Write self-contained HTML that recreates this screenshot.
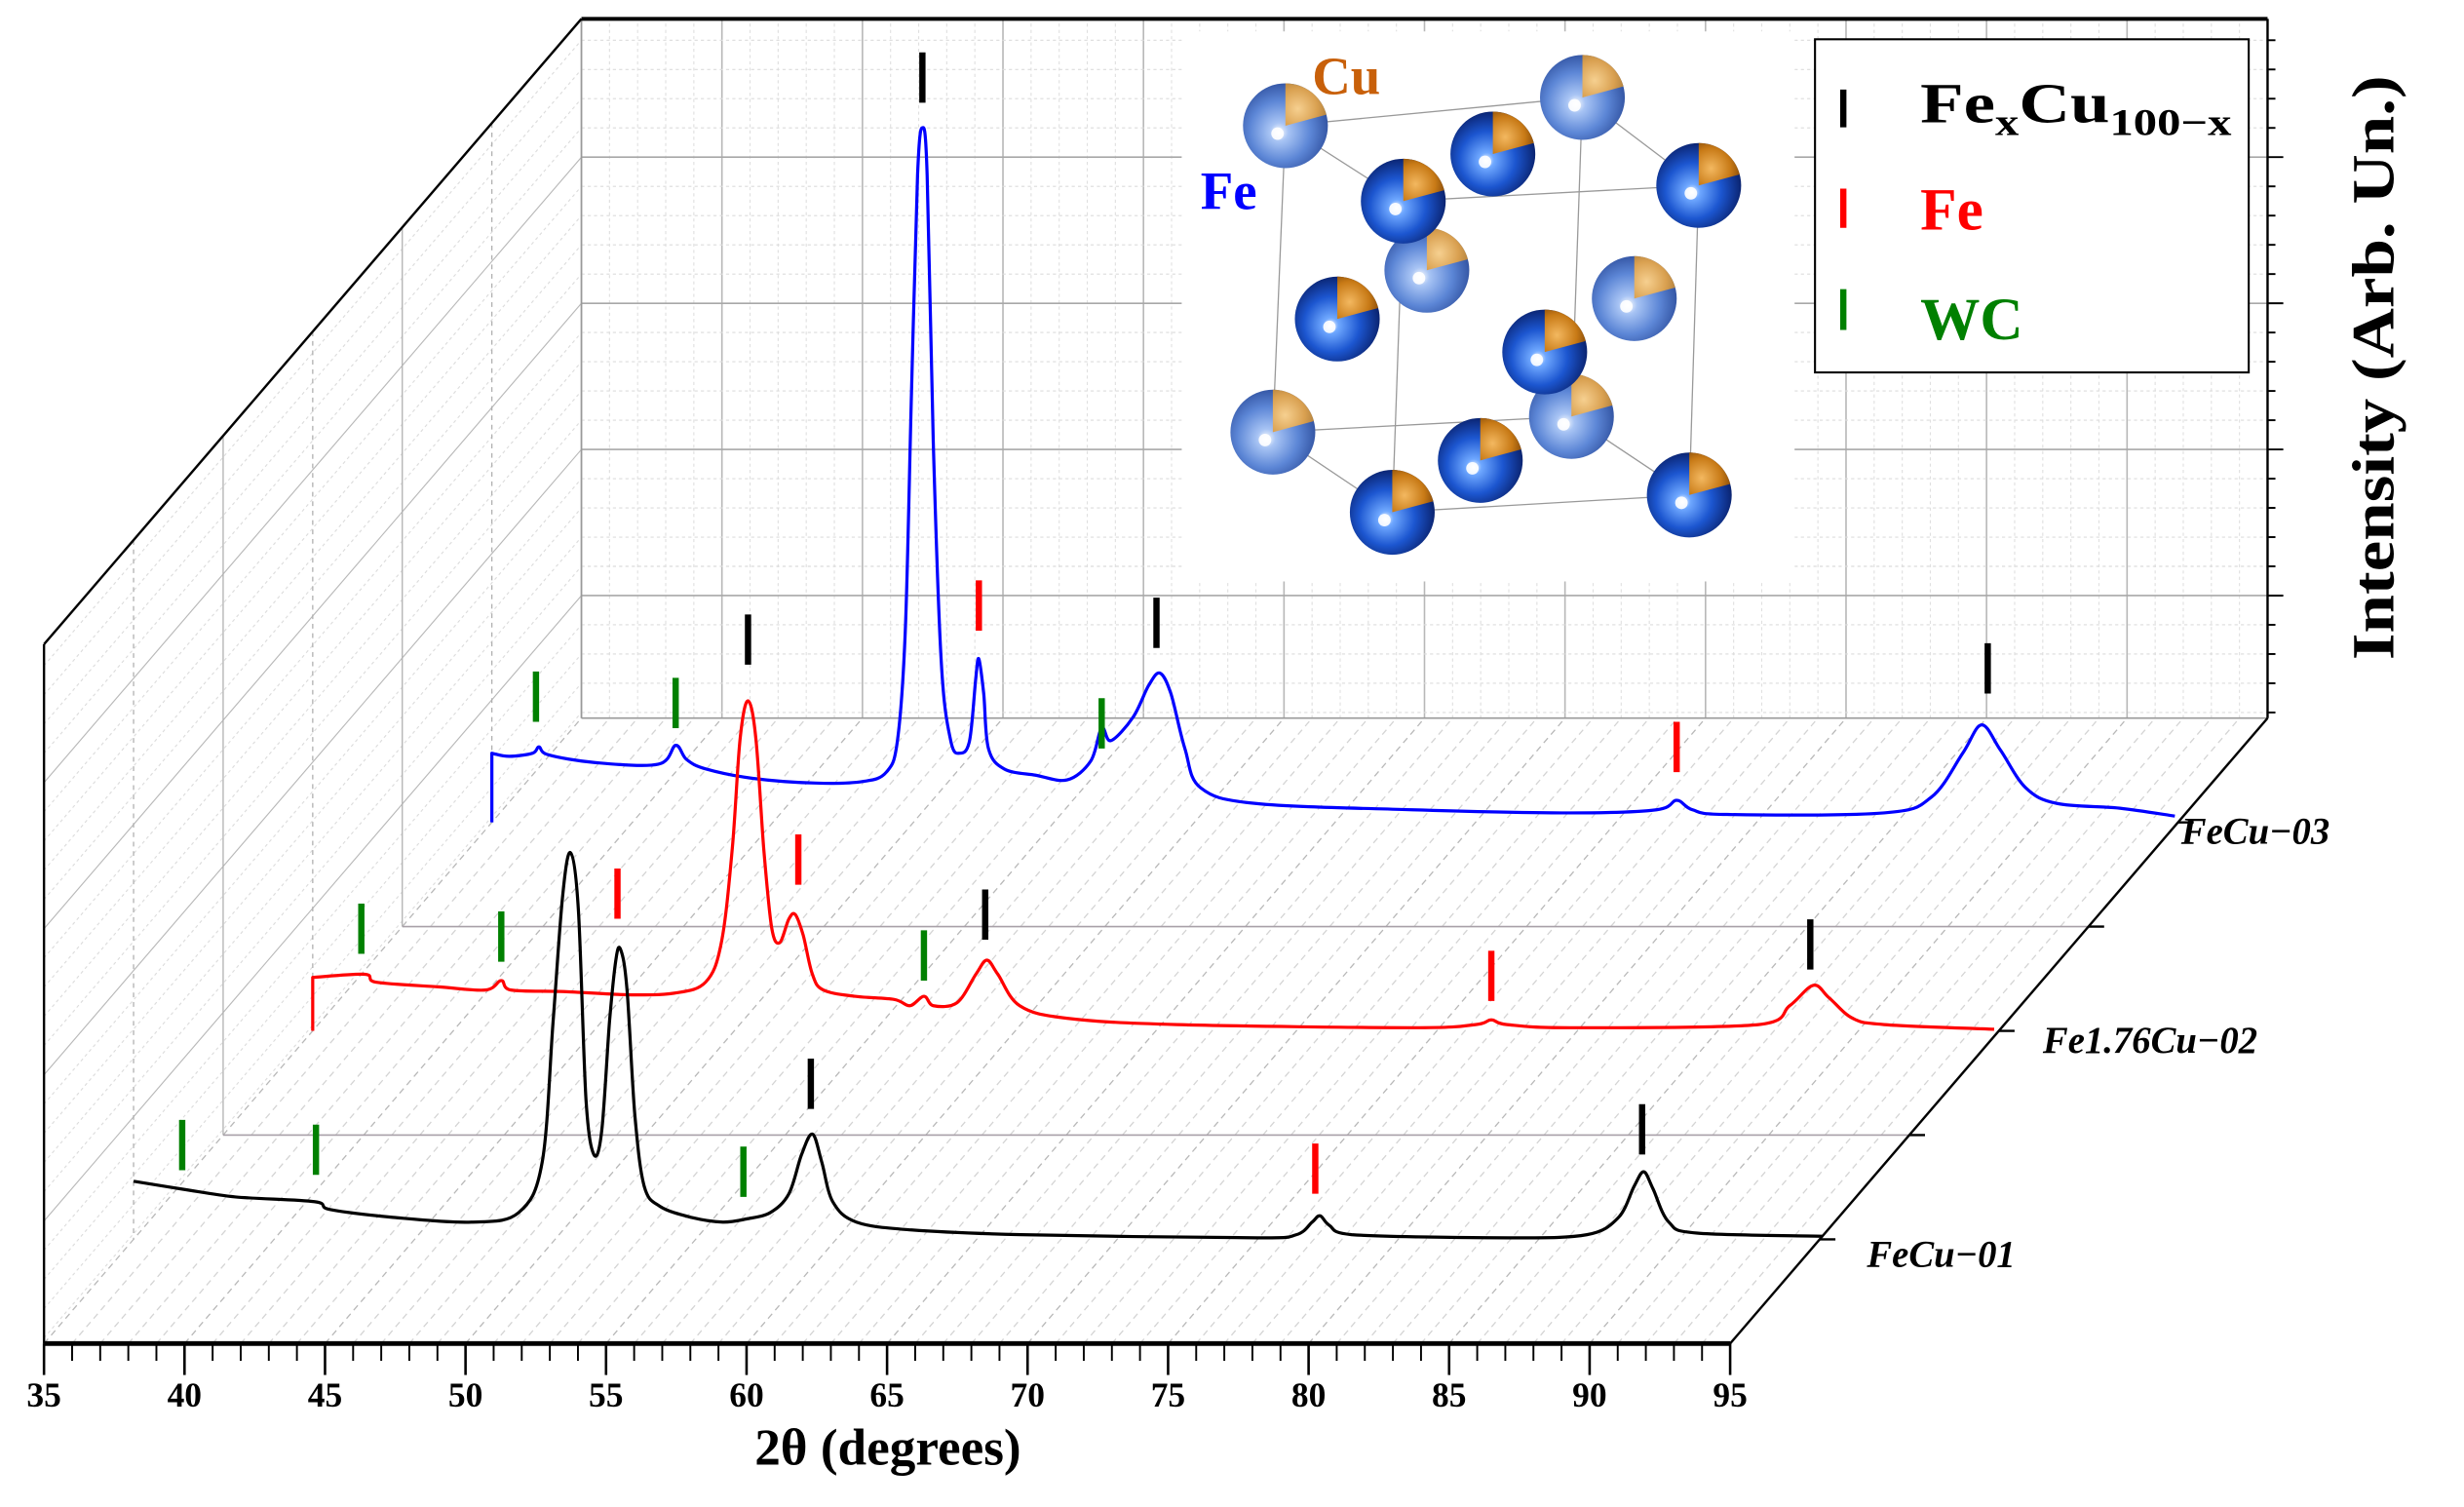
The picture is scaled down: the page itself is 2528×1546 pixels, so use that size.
<!DOCTYPE html>
<html><head><meta charset="utf-8"><style>
html,body{margin:0;padding:0;background:#fff;}
svg{display:block;}
text{font-family:"Liberation Serif",serif;}
</style></head><body>
<svg id="chart" xmlns="http://www.w3.org/2000/svg" width="2528" height="1546" viewBox="0 0 1568 959" preserveAspectRatio="none">
<defs>
<radialGradient id="gDark" cx="0.45" cy="0.55" r="0.6" fx="0.42" fy="0.58">
<stop offset="0" stop-color="#ffffff"/><stop offset="0.15" stop-color="#6fa8ff"/><stop offset="0.55" stop-color="#1c56d0"/><stop offset="1" stop-color="#071a5e"/></radialGradient>
<radialGradient id="gLight" cx="0.45" cy="0.55" r="0.6" fx="0.42" fy="0.58">
<stop offset="0" stop-color="#ffffff"/><stop offset="0.18" stop-color="#a8c4f4"/><stop offset="0.6" stop-color="#5c86d6"/><stop offset="1" stop-color="#2c4c9a"/></radialGradient>
<radialGradient id="gCu" cx="0.3" cy="0.6" r="0.8">
<stop offset="0" stop-color="#f3b860"/><stop offset="0.6" stop-color="#c87a16"/><stop offset="1" stop-color="#7a4206"/></radialGradient>
<radialGradient id="gCuL" cx="0.3" cy="0.6" r="0.8">
<stop offset="0" stop-color="#f6d090"/><stop offset="0.6" stop-color="#d9a050"/><stop offset="1" stop-color="#a87a3a"/></radialGradient>
</defs>
<g id="grid"></g>
<g id="frame"></g>
<g id="inset"></g>
<g id="series"></g>
<g id="labels"></g>
<g>
<rect x="1155" y="25" width="276" height="212" fill="#fff" stroke="#000" stroke-width="1.3"/>
<line x1="1173" y1="57" x2="1173" y2="81" stroke="#000" stroke-width="4"/>
<text x="1222" y="78" font-size="36" font-weight="bold" fill="#000" textLength="198" lengthAdjust="spacingAndGlyphs">Fe<tspan font-size="24" dy="8">x</tspan><tspan dy="-8">Cu</tspan><tspan font-size="24" dy="8">100−x</tspan></text>
<line x1="1173" y1="120" x2="1173" y2="145" stroke="#f00" stroke-width="4"/>
<text x="1222" y="146" font-size="38" font-weight="bold" fill="#f00">Fe</text>
<line x1="1173" y1="184" x2="1173" y2="210" stroke="#008000" stroke-width="4"/>
<text x="1222" y="216" font-size="38" font-weight="bold" fill="#008000">WC</text>
</g>
</svg>
<script>
// ---- data ----
const xTickLabels = [35,40,45,50,55,60,65,70,75,80,85,90,95];
const seriesNames = ["FeCu−01","Fe1.76Cu−02","FeCu−03"];
const seriesDepth = [1,3,5]; // depth slot (of 6)
const seriesColors = ["#000000","#ff0000","#0000ff"];

const blackTheta = [35,36.73,38.63,41.43,41.99,44.23,47.02,48.70,49.54,49.93,50.27,50.55,50.83,51.10,51.38,51.66,51.94,52.17,52.34,52.56,52.84,53.17,53.73,54.85,55.97,56.81,57.65,58.32,58.77,59.16,59.49,59.88,60.72,62.68,66.59,74.98,76.38,76.94,77.22,77.55,78.34,83.93,86.72,87.84,88.40,88.74,89.07,89.63,90.64,95.11];
const blackInt = [37,32,27,24,19,14,11,17,49,139,219,246,209,89,54,69,139,179,184,159,79,34,21,14,11,13,17,29,54,67,49,24,11,6,3,1,3,11,15,9,3,1,3,14,34,43,32,11,4,2];

const redTheta = [35,36.85,37.24,39.47,41.15,41.71,42.05,43.95,46.18,47.86,48.98,49.54,49.93,50.21,50.49,50.77,51.05,51.33,51.61,51.94,52.17,52.45,52.78,53.17,54.29,55.69,56.25,56.75,57.09,57.93,58.60,58.99,59.38,60.16,61.84,65.76,74.14,76.38,76.94,77.50,79.73,86.45,87.56,88.40,88.96,89.80,90.92,94.83];
const redInt = [34,36,31,28,26,32,26,25,23,24,31,56,116,186,210,186,116,66,56,71,74,61,36,26,22,20,16,22,16,18,36,45,36,16,8,4,2,4,7,4,2,4,16,29,21,8,4,1];

const blueTheta = [35,35.62,36.45,36.68,37.01,38.69,40.93,41.54,41.93,42.61,44.28,46.52,48.20,49.04,49.43,49.71,49.93,50.15,50.32,50.49,50.71,50.99,51.33,51.66,52.00,52.22,52.33,52.50,52.67,53.23,54.35,55.47,56.31,56.70,57.03,57.82,58.37,58.77,59.16,59.66,60.22,62.18,67.77,73.36,76.44,77.16,77.72,78.95,84.54,86.22,87.34,88.01,88.68,89.58,90.70,92.93,94.89];
const blueInt = [44,42,44,48,43,38,37,49,40,34,28,25,26,32,52,122,272,412,442,412,242,102,52,44,52,92,104,82,47,34,30,27,39,60,52,67,87,95,82,47,22,12,8,6,8,14,8,5,6,16,44,62,46,22,12,9,4];

// phase markers: theta, phase, intensity at marker bottom
const blackMarkTheta = [36.73,41.49,56.70,52.22,59.10,77.05,88.68];
const blackMarkPhase = ["WC","WC","WC","Fe","FeCu","Fe","FeCu"];
const blackMarkInt = [44,41,27,204,83,29,54];
const redMarkTheta = [36.73,41.71,50.49,52.28,56.75,58.93,76.94,88.29];
const redMarkPhase = ["WC","WC","FeCu","Fe","WC","FeCu","Fe","FeCu"];
const redMarkInt = [49,44,233,93,32,58,19,39];
const blueMarkTheta = [36.57,41.54,50.32,52.33,56.70,58.65,77.16,88.23];
const blueMarkPhase = ["WC","WC","FeCu","Fe","WC","FeCu","Fe","FeCu"];
const blueMarkInt = [64,60,458,122,47,111,32,82];

// ---- geometry ----
const NS="http://www.w3.org/2000/svg";
const X0=28, X1=1101, Y0=855, DX=342, DY=398, ZH=445;
function sx(t,slot){return X0+(t-35)*(X1-X0)/60+slot/6*DX;}
function base(slot){return Y0-slot/6*DY;}
function sy(v,slot){return base(slot)-v;}
function mk(tag,attrs,parent){const e=document.createElementNS(NS,tag);for(const k in attrs)e.setAttribute(k,attrs[k]);parent.appendChild(e);return e;}
const grid=document.getElementById('grid'), frame=document.getElementById('frame'), ser=document.getElementById('series'), lab=document.getElementById('labels'), inset=document.getElementById('inset');

// floor lines
for(let t=35;t<=95;t++){
 const l=mk('line',{x1:sx(t,0),y1:Y0,x2:sx(t,6),y2:Y0-DY,stroke:t%5==0?'#b8b8b8':'#d4d4d4','stroke-width':0.8,'stroke-dasharray':'4,3'},grid);
 
 
}
// back wall
for(let t=35;t<=95;t++){
 const major=t%5==0;
 const l=mk('line',{x1:sx(t,6),y1:Y0-DY,x2:sx(t,6),y2:Y0-DY-ZH,stroke:major?'#b8b8b8':'#e0e0e0','stroke-width':major?1:0.7,'stroke-dasharray':major?'':'2,2'},grid);
 
 
}
const hLines=[];
for(let i=-25;i<=25;i++){const yy=100+i*18.6; if(yy>12.5&&yy<456)hLines.push([yy,((i%5)+5)%5==0]);}
hLines.forEach(([yy,major])=>{
 const l=mk('line',{x1:370,y1:yy,x2:1443,y2:yy,stroke:major?'#a8a8a8':'#dcdcdc','stroke-width':major?1:0.7,'stroke-dasharray':major?'':'2,2'},grid);
 
 
 const l2=mk('line',{x1:28,y1:yy+398,x2:370,y2:yy,stroke:major?'#b8b8b8':'#dcdcdc','stroke-width':0.7,'stroke-dasharray':major?'':'2,2'},grid);
 
 
 mk('line',{x1:1443,y1:yy,x2:major?1453:1448,y2:yy,stroke:'#000','stroke-width':1.2},frame);
});
for(let k=1;k<6;k++){
 const x=X0+k/6*DX, yb=base(k);
 const l=mk('line',{x1:x,y1:yb-ZH,x2:x,y2:yb,stroke:'#b0b0b0','stroke-width':0.8,'stroke-dasharray':k%2==0?'':'3,3'},grid);
 
 
 if(k%2==0){const h=mk('line',{x1:x,y1:yb,x2:x+(X1-X0),y2:yb,stroke:'#a8a0a8','stroke-width':1},grid);
 
 }
}
mk('line',{x1:370,y1:457,x2:1443,y2:457,stroke:'#999','stroke-width':1},grid);
mk('line',{x1:370,y1:12,x2:370,y2:457,stroke:'#999','stroke-width':1},grid);

// frame
const fr=[[28,855,1101,855,3],[28,410,28,855,1.5],[28,410,370,12,1.5],[370,12,1443,12,2.5],[1443,12,1443,457,1.5],[1101,855,1443,457,1.5]];
fr.forEach(f=>{const l=mk('line',{x1:f[0],y1:f[1],x2:f[2],y2:f[3],stroke:'#000','stroke-width':f[4]},frame);
 
 });
for(let t=35;t<=95;t++){
 const major=t%5==0;
 mk('line',{x1:sx(t,0),y1:855,x2:sx(t,0),y2:major?875:866,stroke:'#000','stroke-width':major?1.6:1.2},frame);
}
xTickLabels.forEach(v=>{const e=mk('text',{x:sx(v,0),y:895,'font-size':22,'font-weight':'bold','text-anchor':'middle'},lab);e.textContent=v;
 
 });
for(let k=1;k<=5;k++){const x=X1+k/6*DX, y=base(k);
 mk('line',{x1:x,y1:y,x2:x+10,y2:y,stroke:'#000','stroke-width':1.5},frame);}
const xt=mk('text',{x:565,y:932,'font-size':33,'font-weight':'bold','text-anchor':'middle'},lab);xt.textContent='2θ (degrees)';


const yt=mk('text',{x:0,y:0,'font-size':38,'font-weight':'bold','text-anchor':'middle',textLength:372,lengthAdjust:'spacingAndGlyphs',transform:'translate(1523,234) rotate(-90)'},lab);yt.textContent='Intensity (Arb. Un.)';


const labPos=[[1188,806],[1300,670],[1388,537]];
seriesNames.forEach((n,i)=>{const e=mk('text',{x:labPos[i][0],y:labPos[i][1],'font-size':24,'font-weight':'bold','font-style':'italic'},lab);e.textContent=n;
 
 });

// smooth path (Catmull-Rom) through points
function smooth(pts){
 let d='M'+pts[0][0].toFixed(1)+','+pts[0][1].toFixed(1);
 for(let i=0;i<pts.length-1;i++){
  const p0=pts[Math.max(0,i-1)],p1=pts[i],p2=pts[i+1],p3=pts[Math.min(pts.length-1,i+2)];
  let c1x=p1[0]+(p2[0]-p0[0])/6,c1y=p1[1]+(p2[1]-p0[1])/6,c2x=p2[0]-(p3[0]-p1[0])/6,c2y=p2[1]-(p3[1]-p1[1])/6;
  c1x=Math.min(Math.max(c1x,p1[0]),p2[0]);c2x=Math.min(Math.max(c2x,p1[0]),p2[0]);
  d+=`C${c1x.toFixed(1)},${c1y.toFixed(1)} ${c2x.toFixed(1)},${c2y.toFixed(1)} ${p2[0].toFixed(1)},${p2[1].toFixed(1)}`;
 }
 return d;
}
// series
const thetas=[blackTheta,redTheta,blueTheta], ints=[blackInt,redInt,blueInt];
const mT=[blackMarkTheta,redMarkTheta,blueMarkTheta], mP=[blackMarkPhase,redMarkPhase,blueMarkPhase], mI=[blackMarkInt,redMarkInt,blueMarkInt];
const phaseColor={FeCu:'#000',Fe:'#f00',WC:'#008000'};
for(let s=2;s>=0;s--){
 const slot=seriesDepth[s];
 const pts=thetas[s].map((t,i)=>[sx(t,slot),sy(ints[s][i],slot)]);
 let d=smooth(pts);
 if(s>0) d='M'+pts[0][0].toFixed(1)+','+base(slot).toFixed(1)+'L'+d.slice(1);
 const p=mk('path',{d:d,fill:'none',stroke:seriesColors[s],'stroke-width':2,'stroke-linejoin':'round'},ser);
 
 
 mT[s].forEach((t,i)=>{const x=sx(t,slot), y=sy(mI[s][i],slot);
  const m=mk('line',{x1:x,y1:y,x2:x,y2:y-32,stroke:phaseColor[mP[s][i]],'stroke-width':4},ser);
  
  });
}

// inset
mk('rect',{x:752,y:20,width:390,height:350,fill:'#fff'},inset);
const atoms=[[1007,62,1],[950,98,0],[818,80,1],[1081,118,0],[908,172,1],[893,128,0],[851,203,0],[1040,190,1],[1000,265,1],[983,224,0],[810,275,1],[942,293,0],[886,326,0],[1075,315,0]];
const edges=[[818,80,1007,62],[818,80,893,128],[893,128,1081,118],[1007,62,1081,118],[810,275,1000,265],[810,275,886,326],[886,326,1075,315],[1000,265,1075,315],[818,80,810,275],[893,128,886,326],[1007,62,1000,265],[1081,118,1075,315]];
edges.forEach(e=>mk('line',{x1:e[0],y1:e[1],x2:e[2],y2:e[3],stroke:'#999','stroke-width':0.8},inset));
const r=27;
atoms.forEach(a=>{const [cx,cy,light]=a;
 const c=mk('circle',{cx:cx,cy:cy,r:r,fill:light?'url(#gLight)':'url(#gDark)'},inset);
 
 
 const ang=-15*Math.PI/180;
 const w=mk('path',{d:`M${cx},${cy} L${cx},${cy-r} A${r},${r} 0 0 1 ${(cx+r*Math.cos(ang)).toFixed(1)},${(cy+r*Math.sin(ang)).toFixed(1)} Z`,fill:light?'url(#gCuL)':'url(#gCu)'},inset);
 
 
 mk('circle',{cx:cx-5,cy:cy+5,r:4,fill:'#fff',opacity:0.9},inset);
});
const cu=mk('text',{x:835,y:60,'font-size':34,'font-weight':'bold',fill:'#c8600a'},inset);cu.textContent='Cu';


const fe=mk('text',{x:764,y:133,'font-size':34,'font-weight':'bold',fill:'#0000ff'},inset);fe.textContent='Fe';


</script>
</body></html>
